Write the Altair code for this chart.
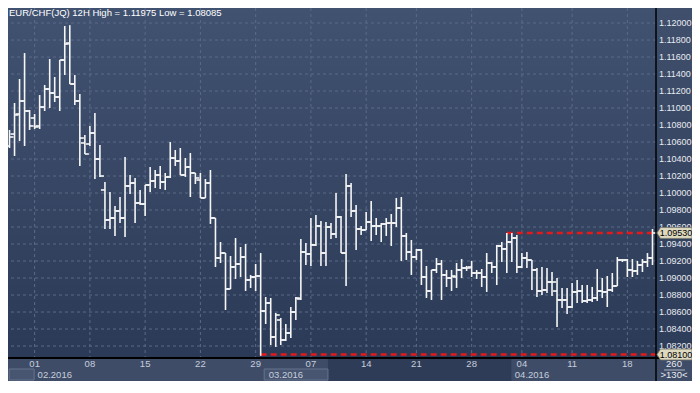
import altair as alt
import pandas as pd

title_text = "EUR/CHF(JQ) 12H High = 1.11975 Low = 1.08085"

highs = [1.10742, 1.11059, 1.11342, 1.11647, 1.10977, 1.10930, 1.11153, 1.11271, 1.11577, 1.11365,
         1.11565, 1.11965, 1.11975, 1.11389, 1.11165, 1.10683, 1.10789, 1.10942, 1.10565, 1.10130,
         1.10012, 1.09847, 1.09953, 1.10424, 1.10212, 1.10177, 1.10036, 1.10095, 1.10306, 1.10271,
         1.10318, 1.10236, 1.10600, 1.10506, 1.10530, 1.10412, 1.10471, 1.10236, 1.10236, 1.10165,
         1.10271, 1.09706, 1.09424, 1.09294, 1.09259, 1.09471, 1.09365, 1.09400, 1.09036, 1.09165,
         1.09294, 1.08777, 1.08765, 1.08589, 1.08530, 1.08459, 1.08659, 1.08777, 1.09459, 1.09412,
         1.09706, 1.09742, 1.09671, 1.09659, 1.09647, 1.10000, 1.09730, 1.10224, 1.10118, 1.09859,
         1.09612, 1.09777, 1.09906, 1.09706, 1.09647, 1.09706, 1.09753, 1.09942, 1.09953, 1.09530,
         1.09447, 1.09342, 1.09342, 1.09142, 1.09095, 1.09236, 1.09212, 1.09095, 1.09095, 1.09177,
         1.09224, 1.09142, 1.09200, 1.09095, 1.09106, 1.09294, 1.09189, 1.09389, 1.09424, 1.09530,
         1.09530, 1.09506, 1.09294, 1.09306, 1.09212, 1.09118, 1.09130, 1.09118, 1.09071, 1.09000,
         1.08883, 1.08883, 1.08942, 1.08977, 1.08918, 1.08918, 1.08895, 1.09106, 1.09000, 1.09024,
         1.09059, 1.09247, 1.09224, 1.09224, 1.09224, 1.09200, 1.09224, 1.09294, 1.09577]
lows = [1.10530, 1.10436, 1.10612, 1.10553, 1.10742, 1.10753, 1.10753, 1.10965, 1.11000, 1.11071,
        1.10965, 1.11389, 1.11283, 1.11036, 1.10318, 1.10459, 1.10553, 1.10165, 1.10189, 1.09577,
        1.09577, 1.09495, 1.09647, 1.09483, 1.09989, 1.09647, 1.09859, 1.09730, 1.10012, 1.10059,
        1.10047, 1.10036, 1.10177, 1.10318, 1.10212, 1.10189, 1.09953, 1.10106, 1.09942, 1.09942,
        1.09636, 1.09130, 1.09177, 1.08624, 1.08871, 1.08989, 1.09012, 1.08847, 1.08883, 1.08847,
        1.08085, 1.08459, 1.08212, 1.08189, 1.08212, 1.08259, 1.08294, 1.08506, 1.08742, 1.09153,
        1.09142, 1.09377, 1.09142, 1.09142, 1.09459, 1.09471, 1.09294, 1.08906, 1.09718, 1.09330,
        1.09506, 1.09565, 1.09436, 1.09506, 1.09424, 1.09495, 1.09377, 1.09600, 1.09200, 1.09212,
        1.09036, 1.09212, 1.08918, 1.08765, 1.08742, 1.09059, 1.08742, 1.08895, 1.08847, 1.08883,
        1.09000, 1.09083, 1.09012, 1.08989, 1.08895, 1.08836, 1.09059, 1.08918, 1.09189, 1.09059,
        1.09189, 1.09059, 1.09118, 1.09118, 1.08859, 1.08777, 1.08800, 1.08824, 1.08789, 1.08424,
        1.08647, 1.08577, 1.08647, 1.08706, 1.08706, 1.08706, 1.08718, 1.08730, 1.08765, 1.08659,
        1.08836, 1.08906, 1.09189, 1.09012, 1.09012, 1.09036, 1.09071, 1.09130, 1.09153]
opens = [1.10553, 1.10694, 1.10930, 1.11083, 1.10965, 1.10883, 1.10789, 1.11012, 1.11224, 1.11177,
         1.11130, 1.11565, 1.11765, 1.11283, 1.11083, 1.10589, 1.10577, 1.10706, 1.10400, 1.10036,
         1.09683, 1.09706, 1.09789, 1.09706, 1.10083, 1.10118, 1.09883, 1.09871, 1.10095, 1.10142,
         1.10212, 1.10130, 1.10189, 1.10412, 1.10377, 1.10212, 1.10306, 1.10236, 1.10153, 1.09942,
         1.10118, 1.09706, 1.09236, 1.09294, 1.08871, 1.09130, 1.09165, 1.09247, 1.08977, 1.09012,
         1.09024, 1.08612, 1.08706, 1.08306, 1.08506, 1.08271, 1.08353, 1.08600, 1.08753, 1.09306,
         1.09283, 1.09389, 1.09612, 1.09294, 1.09600, 1.09518, 1.09718, 1.09294, 1.10083, 1.09789,
         1.09577, 1.09565, 1.09659, 1.09612, 1.09612, 1.09636, 1.09647, 1.09647, 1.09824, 1.09495,
         1.09306, 1.09247, 1.09330, 1.09012, 1.08847, 1.09095, 1.09165, 1.09036, 1.09000, 1.09012,
         1.09095, 1.09118, 1.09130, 1.09059, 1.09059, 1.09012, 1.09177, 1.09130, 1.09377, 1.09342,
         1.09424, 1.09471, 1.09130, 1.09236, 1.09212, 1.09095, 1.08847, 1.08859, 1.08953, 1.08847,
         1.08742, 1.08742, 1.08659, 1.08836, 1.08847, 1.08730, 1.08742, 1.08765, 1.08847, 1.08836,
         1.08859, 1.08906, 1.09212, 1.09212, 1.09095, 1.09083, 1.09153, 1.09189, 1.09236]
closes = [1.10659, 1.10918, 1.11083, 1.10965, 1.10789, 1.10777, 1.11012, 1.11224, 1.11177, 1.11130,
          1.11565, 1.11753, 1.11283, 1.11083, 1.10647, 1.10459, 1.10706, 1.10400, 1.10200, 1.09683,
          1.09706, 1.09789, 1.09706, 1.10083, 1.10118, 1.09883, 1.09871, 1.10095, 1.10142, 1.10212,
          1.10130, 1.10189, 1.10412, 1.10377, 1.10212, 1.10306, 1.10236, 1.10177, 1.09942, 1.10118,
          1.09706, 1.09236, 1.09294, 1.08871, 1.09130, 1.09165, 1.09247, 1.08977, 1.09012, 1.09024,
          1.08612, 1.08706, 1.08306, 1.08565, 1.08271, 1.08353, 1.08600, 1.08765, 1.09306, 1.09283,
          1.09389, 1.09612, 1.09294, 1.09600, 1.09518, 1.09718, 1.09294, 1.10083, 1.09789, 1.09577,
          1.09565, 1.09659, 1.09612, 1.09612, 1.09636, 1.09647, 1.09647, 1.09824, 1.09495, 1.09306,
          1.09247, 1.09330, 1.09012, 1.08847, 1.09095, 1.09165, 1.09036, 1.09000, 1.09024, 1.09095,
          1.09118, 1.09118, 1.09059, 1.09059, 1.09012, 1.09177, 1.09130, 1.09377, 1.09342, 1.09424,
          1.09471, 1.09130, 1.09236, 1.09212, 1.09095, 1.08847, 1.08859, 1.08953, 1.08953, 1.08742,
          1.08742, 1.08659, 1.08836, 1.08847, 1.08730, 1.08742, 1.08765, 1.08847, 1.08836, 1.08859,
          1.08906, 1.09212, 1.09212, 1.09095, 1.09083, 1.09153, 1.09189, 1.09236, 1.09530]

day_tick_idx = [5, 16, 27, 38, 49, 60, 71, 81, 92, 102, 112, 123]
day_tick_lab = ["01", "08", "15", "22", "29", "07", "14", "21", "28", "04", "11", "18"]
month_start = [5, 51, 100]
month_lab = ["02.2016", "03.2016", "04.2016"]
# bottom navigator segments (index range) : light boxes and a dark band
box_start = [-0.06, 50.7]
box_end = [4.9, 63.4]
band_start = [63.4]
band_end = [99.9]
y_ticks = [1.082, 1.084, 1.086, 1.088, 1.090, 1.092, 1.094, 1.096, 1.098, 1.100,
           1.102, 1.104, 1.106, 1.108, 1.110, 1.112, 1.114, 1.116, 1.118, 1.120]
level_price = [1.09530, 1.08100]
level_start = [99, 50]
level_lab = ["1.09530", "1.08100"]
corner_top = "260"
corner_bottom = ">130<"

W, H = 648, 350
RP, BP = 36, 23
FONT = "Liberation Sans"
BAR = "#f6f6f6"

xs = alt.Scale(domain=[-0.3, 128.7], nice=False, zero=False)
ys = alt.Scale(domain=[1.08059, 1.12177], nice=False, zero=False)


def X(f):
    return alt.X(f, type="quantitative", scale=xs, axis=None)


def Y(f):
    return alt.Y(f, type="quantitative", scale=ys, axis=None)


def grad(c0, c1):
    return {"gradient": "linear", "x1": 0, "x2": 0, "y1": 0, "y2": 1,
            "stops": [{"offset": 0, "color": c0}, {"offset": 1, "color": c1}]}


one = pd.DataFrame({"a": [0]})
bars = pd.DataFrame({"i": list(range(len(highs))), "high": highs, "low": lows,
                     "open": opens, "close": closes})
yt = pd.DataFrame({"v": y_ticks})
xt = pd.DataFrame({"i": day_tick_idx, "lab": day_tick_lab})
mt = pd.DataFrame({"i": month_start, "lab": month_lab})
lv = pd.DataFrame({"price": level_price, "start": level_start, "lab": level_lab})
boxes = pd.DataFrame({"s": box_start, "e": box_end})
band = pd.DataFrame({"s": band_start, "e": band_end})

plot_bg = alt.Chart(one).mark_rect(fill=grad("#415271", "#2b3a56")).encode(
    x=alt.value(0), x2=alt.value(W), y=alt.value(0), y2=alt.value(H))
right_bg = alt.Chart(one).mark_rect(fill=grad("#3f4f6c", "#2d3c58")).encode(
    x=alt.value(W), x2=alt.value(W + RP), y=alt.value(0), y2=alt.value(H))
bottom_bg = alt.Chart(one).mark_rect(fill="#3e4c68").encode(
    x=alt.value(0), x2=alt.value(W + RP), y=alt.value(H), y2=alt.value(H + BP))
band_rect = alt.Chart(band).mark_rect(fill="#2f3c57").encode(
    x=X("s"), x2="e", y=alt.value(H), y2=alt.value(H + BP))
box_rect = alt.Chart(boxes).mark_rect(fill="#475571", stroke="#66738c", strokeWidth=1).encode(
    x=X("s"), x2="e", y=alt.value(H + 11), y2=alt.value(H + 22))

ygrid = alt.Chart(yt).mark_rule(color="#5a6a87", strokeWidth=1, strokeDash=[3, 3]).encode(
    y=Y("v"))
xgrid = alt.Chart(xt).mark_rule(color="#5a6a87", strokeWidth=1, strokeDash=[3, 3]).encode(
    x=X("i"), y=alt.value(0), y2=alt.value(H))

levels = alt.Chart(lv).mark_rule(color="#e41a1a", strokeWidth=2.5, strokeDash=[6, 4]).encode(
    x=X("start"), x2=alt.value(W), y=Y("price"))

hl = alt.Chart(bars).mark_rule(color=BAR, strokeWidth=1.6).encode(
    x=X("i"), y=Y("high"), y2="low")
op = alt.Chart(bars).transform_calculate(x0="datum.i - 0.8").mark_rule(
    color=BAR, strokeWidth=1.6).encode(x=X("x0"), x2="i", y=Y("open"))
cl = alt.Chart(bars).transform_calculate(x1="datum.i + 0.8").mark_rule(
    color=BAR, strokeWidth=1.6).encode(x=X("i"), x2="x1", y=Y("close"))

sep_v = alt.Chart(one).mark_rule(color="#000000", strokeWidth=1.5).encode(
    x=alt.value(W), y=alt.value(0), y2=alt.value(H + BP))
sep_h = alt.Chart(one).mark_rule(color="#000000", strokeWidth=2).encode(
    x=alt.value(0), x2=alt.value(W + RP), y=alt.value(H))
corner_line = alt.Chart(one).mark_rule(color="#aeb6c4", strokeWidth=1).encode(
    x=alt.value(W + 8), x2=alt.value(W + 29), y=alt.value(H + 12))

ylab = alt.Chart(yt).transform_calculate(t="format(datum.v, '.5f')").mark_text(
    align="left", baseline="middle", font=FONT, fontSize=9, color="#e8ebf0", dx=3).encode(
    x=alt.value(W), y=Y("v"), text="t:N")
xlab = alt.Chart(xt).mark_text(
    align="center", baseline="middle", font=FONT, fontSize=9.5, color="#c6cedb").encode(
    x=X("i"), y=alt.value(H + 6), text="lab:N")
mlab = alt.Chart(mt).mark_text(
    align="left", baseline="middle", font=FONT, fontSize=9.5, color="#c6cedb", dx=3).encode(
    x=X("i"), y=alt.value(H + 17), text="lab:N")

title = alt.Chart(one).mark_text(
    align="left", baseline="middle", font=FONT, fontSize=9.5, color="#ffffff").encode(
    x=alt.value(1), y=alt.value(5), text=alt.value(title_text))

tag_shape = "M -1 0 L -0.8 -0.31 L 1 -0.31 L 1 0.31 L -0.8 0.31 Z"
tags = alt.Chart(lv).mark_point(shape=tag_shape, size=1225, filled=True, fill="#dedac0",
                                 stroke="#77756a", strokeWidth=0.8, opacity=1).encode(
    x=alt.value(W + 18.5), y=Y("price"))
tag_txt = alt.Chart(lv).mark_text(
    align="center", baseline="middle", font=FONT, fontSize=9, color="#000000").encode(
    x=alt.value(W + 20), y=Y("price"), text="lab:N")

c_top = alt.Chart(one).mark_text(
    align="center", baseline="middle", font=FONT, fontSize=9.5, color="#e8ebf0").encode(
    x=alt.value(W + RP / 2), y=alt.value(H + 6), text=alt.value(corner_top))
c_bot = alt.Chart(one).mark_text(
    align="center", baseline="middle", font=FONT, fontSize=9.5, color="#e8ebf0").encode(
    x=alt.value(W + RP / 2), y=alt.value(H + 17), text=alt.value(corner_bottom))

chart = alt.layer(
    plot_bg, right_bg, bottom_bg, band_rect, box_rect, ygrid, xgrid, levels, hl, op, cl,
    sep_v, sep_h, corner_line, ylab, xlab, mlab, title, tags, tag_txt, c_top, c_bot
).properties(
    width=W, height=H,
    autosize=alt.AutoSizeParams(type="none"),
    padding={"left": 0, "top": 0, "right": RP, "bottom": BP},
    background="#34435f",
).configure_view(stroke=None)

chart.save("out.html", embed_options={"renderer": "svg", "actions": False})
